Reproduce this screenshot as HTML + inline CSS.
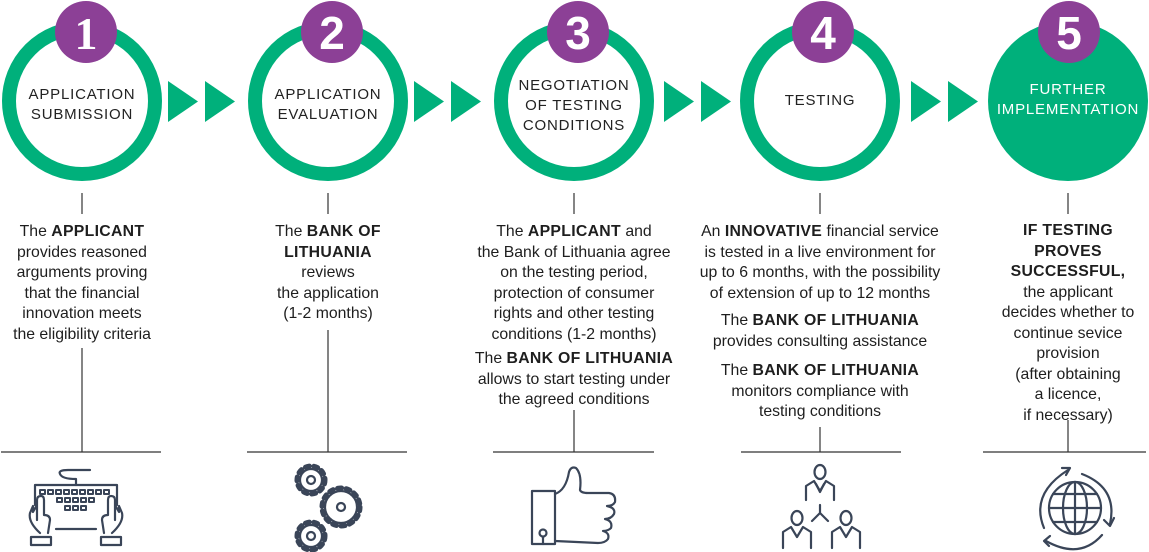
<!DOCTYPE html>
<html><head><meta charset="utf-8"><style>
body{margin:0;width:1149px;height:552px;background:#fff;position:relative;overflow:hidden;font-family:"Liberation Sans",Arial,sans-serif;}
.t{position:absolute;text-align:center;font-size:15.8px;line-height:20.5px;color:#1e1e1e;}
.t b{font-weight:bold;letter-spacing:0.3px}
.c{position:absolute;text-align:center;font-size:15px;line-height:20px;letter-spacing:0.8px;color:#222;}
</style></head><body>
<svg width="1149" height="552" style="position:absolute;left:0;top:0">
<g fill="none" stroke="#00b07b" stroke-width="14">
<circle cx="82" cy="101" r="73"/><circle cx="328" cy="101" r="73"/><circle cx="574" cy="101" r="73"/><circle cx="820" cy="101" r="73"/>
</g>
<circle cx="1068" cy="101" r="80" fill="#00b07b"/>
<g fill="#00b07b">
<polygon points="168,81 198,101.5 168,122"/><polygon points="205,81 235,101.5 205,122"/>
<polygon points="414,81 444,101.5 414,122"/><polygon points="451,81 481,101.5 451,122"/>
<polygon points="664,81 694,101.5 664,122"/><polygon points="701,81 731,101.5 701,122"/>
<polygon points="911,81 941,101.5 911,122"/><polygon points="948,81 978,101.5 948,122"/>
</g>
<g fill="#8c4096">
<circle cx="86" cy="32" r="31"/><circle cx="332" cy="32" r="31"/><circle cx="578" cy="32" r="31"/><circle cx="823" cy="32" r="31"/><circle cx="1069" cy="32" r="31"/>
</g>
<g fill="#fff" font-family="Liberation Sans,Arial,sans-serif" font-weight="bold" font-size="46" text-anchor="middle">
<text x="86" y="49" font-family="Liberation Serif,serif">1</text><text x="332" y="49">2</text><text x="578" y="49">3</text><text x="823" y="49">4</text><text x="1069" y="49">5</text>
</g>
<g stroke="#333" stroke-width="1.2">
<line x1="82" y1="193" x2="82" y2="214"/><line x1="328" y1="193" x2="328" y2="214"/><line x1="574" y1="193" x2="574" y2="214"/><line x1="820" y1="193" x2="820" y2="214"/><line x1="1068" y1="193" x2="1068" y2="214"/>
<line x1="82" y1="348" x2="82" y2="452"/><line x1="328" y1="330" x2="328" y2="452"/><line x1="574" y1="410" x2="574" y2="452"/><line x1="820" y1="427" x2="820" y2="452"/><line x1="1068" y1="420" x2="1068" y2="452"/>
<line x1="1" y1="452" x2="161" y2="452"/><line x1="247" y1="452" x2="407" y2="452"/><line x1="493" y1="452" x2="654" y2="452"/><line x1="741" y1="452" x2="901" y2="452"/><line x1="983" y1="452" x2="1146" y2="452"/>
</g>
<g fill="none" stroke="#3a4558" stroke-width="2.2" stroke-linejoin="round" stroke-linecap="round">
<!-- keyboard -->
<path d="M35 505 V485 H117 V505"/><path d="M76 485 V479 Q62 479 60 474 Q58 470 68 470 H90"/>
<g stroke-width="2"><rect x="40" y="490" width="5" height="4"/><rect x="48" y="490" width="5" height="4"/><rect x="56" y="490" width="5" height="4"/><rect x="64" y="490" width="5" height="4"/><rect x="72" y="490" width="5" height="4"/><rect x="80" y="490" width="5" height="4"/><rect x="88" y="490" width="5" height="4"/><rect x="96" y="490" width="5" height="4"/><rect x="104" y="490" width="5" height="4"/><rect x="57" y="498" width="5" height="4"/><rect x="65" y="498" width="5" height="4"/><rect x="73" y="498" width="5" height="4"/><rect x="81" y="498" width="5" height="4"/><rect x="89" y="498" width="5" height="4"/><rect x="65" y="506" width="5" height="4"/><rect x="73" y="506" width="5" height="4"/><rect x="81" y="506" width="5" height="4"/></g>
<path d="M40 533 Q28 522 30 513 L33 506 V512 L37 505 V520 M37 505 V500 Q37 496 41 496 Q44 496 44 500 V515 Q50 515 50 520 L48 533"/>
<path d="M112 533 Q124 522 122 513 L119 506 V512 L115 505 V520 M115 505 V500 Q115 496 111 496 Q108 496 108 500 V515 Q102 515 102 520 L104 533"/>
<line x1="56" y1="529" x2="96" y2="529"/><rect x="31" y="537" width="20" height="8"/><rect x="101" y="537" width="20" height="8"/>
<!-- gears -->
<circle cx="311" cy="480" r="11"/><circle cx="311" cy="480" r="4"/><circle cx="341" cy="507" r="16"/><circle cx="341" cy="507" r="4"/><circle cx="311" cy="536" r="11"/><circle cx="311" cy="536" r="4"/>
<g stroke-dasharray="4 4.6"><circle cx="311" cy="480" r="14" stroke-width="5"/><circle cx="341" cy="507" r="19" stroke-width="5"/><circle cx="311" cy="536" r="14" stroke-width="5"/></g>
<!-- thumb -->
<rect x="532" y="491" width="23" height="53"/><circle cx="543" cy="533" r="3.5"/><line x1="543" y1="537" x2="543" y2="544"/>
<path d="M555 494 Q566 490 569 472 Q571 466 576 468 Q582 474 580 490 Q581 493 588 493 H609 Q616 494 615 502 Q613 506 607 506 Q616 508 614 514 Q611 519 605 519 Q613 521 611 528 Q608 531 603 531 Q610 533 608 539 Q605 543 598 543 L555 541"/>
<!-- people -->
<ellipse cx="820" cy="472" rx="5.5" ry="7"/><path d="M806 500 V486 L814 481 L820 491 L826 481 L834 486 V500"/><path d="M816 484 L820 492 L824 484"/>
<path d="M820 505 V513 L812 521 M820 513 L828 521"/>
<ellipse cx="797" cy="518" rx="5.5" ry="7"/><path d="M783 548 V532 L791 527 L797 537 L803 527 L811 532 V548"/>
<ellipse cx="846" cy="518" rx="5.5" ry="7"/><path d="M832 548 V532 L840 527 L846 537 L852 527 L860 532 V548"/>
<!-- globe -->
<circle cx="1075" cy="508" r="26"/><ellipse cx="1075" cy="508" rx="12" ry="26"/><line x1="1075" y1="482" x2="1075" y2="534"/><line x1="1049" y1="508" x2="1101" y2="508"/><line x1="1053" y1="494" x2="1097" y2="494"/><line x1="1053" y1="522" x2="1097" y2="522"/>
<path d="M1044 528 Q1030 494 1068 470"/><path d="M1062 468 L1070 468 L1066 475"/>
<path d="M1082 474 Q1118 488 1110 524"/><path d="M1104 520 L1110 526 L1114 518"/>
<path d="M1102 535 Q1080 560 1046 541"/><path d="M1050 536 L1044 541 L1049 546"/>
</g>
</svg>
<div class="c" style="left:2px;top:85px;width:160px">APPLICATION<br>SUBMISSION</div>
<div class="c" style="left:248px;top:85px;width:160px">APPLICATION<br>EVALUATION</div>
<div class="c" style="left:494px;top:76px;width:160px">NEGOTIATION<br>OF TESTING<br>CONDITIONS</div>
<div class="c" style="left:740px;top:91px;width:160px">TESTING</div>
<div class="c" style="left:978px;top:80px;width:180px;color:#fff">FURTHER<br>IMPLEMENTATION</div>

<div class="t" style="left:-18px;top:222px;width:200px">The <b>APPLICANT</b><br>provides reasoned<br>arguments proving<br>that the financial<br>innovation meets<br>the eligibility criteria</div>
<div class="t" style="left:228px;top:222px;width:200px">The <b>BANK OF<br>LITHUANIA</b><br>reviews<br>the application<br>(1-2 months)</div>
<div class="t" style="left:444px;top:222px;width:260px">The <b>APPLICANT</b> and<br>the Bank of Lithuania agree<br>on the testing period,<br>protection of consumer<br>rights and other testing<br>conditions (1-2 months)</div>
<div class="t" style="left:444px;top:349px;width:260px">The <b>BANK OF LITHUANIA</b><br>allows to start testing under<br>the agreed conditions</div>
<div class="t" style="left:680px;top:222px;width:280px">An <b>INNOVATIVE</b> financial service<br>is tested in a live environment for<br>up to 6 months, with the possibility<br>of extension of up to 12 months</div>
<div class="t" style="left:680px;top:311px;width:280px">The <b>BANK OF LITHUANIA</b><br>provides consulting assistance</div>
<div class="t" style="left:680px;top:361px;width:280px">The <b>BANK OF LITHUANIA</b><br>monitors compliance with<br>testing conditions</div>
<div class="t" style="left:968px;top:221px;width:200px"><b>IF TESTING<br>PROVES<br>SUCCESSFUL,</b><br>the applicant<br>decides whether to<br>continue sevice<br>provision<br>(after obtaining<br>a licence,<br>if necessary)</div>
</body></html>
